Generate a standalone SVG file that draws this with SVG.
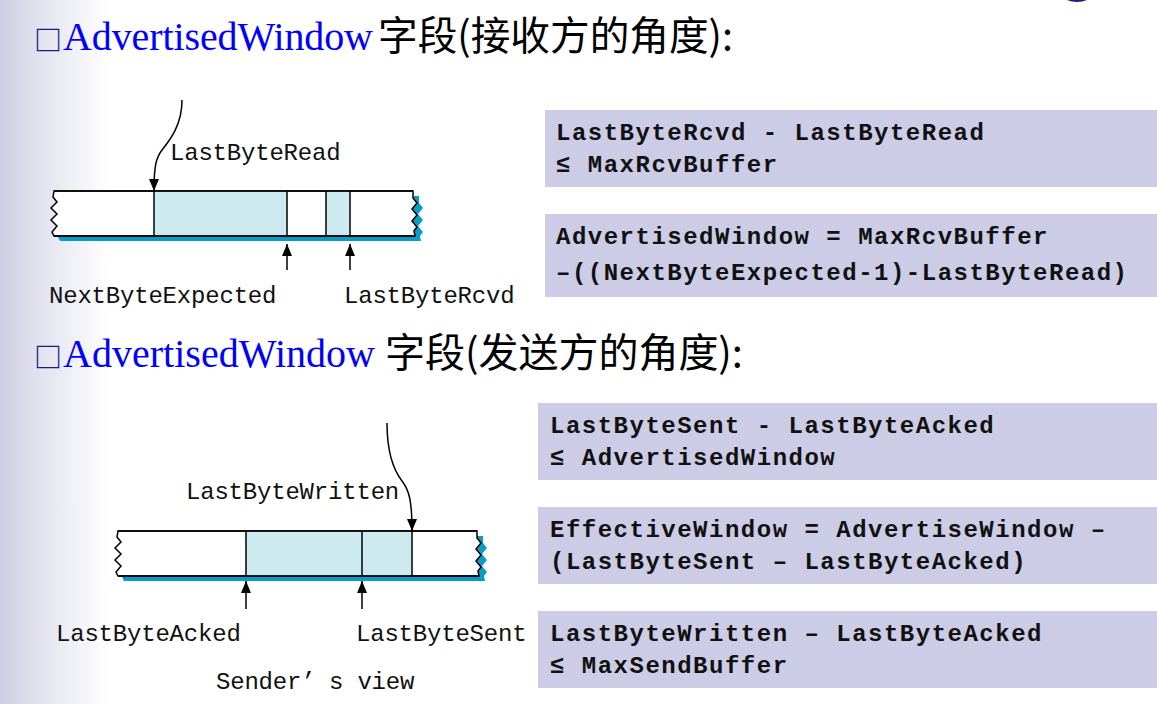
<svg xmlns="http://www.w3.org/2000/svg" width="1157" height="704" viewBox="0 0 1157 704">
<defs>
<linearGradient id="side" x1="0" y1="0" x2="1" y2="0">
<stop offset="0" stop-color="#cdcde3"/>
<stop offset="0.35" stop-color="#e2e2ef"/>
<stop offset="1" stop-color="#ffffff"/>
</linearGradient>
<marker id="ah" markerUnits="userSpaceOnUse" markerWidth="14" markerHeight="12" refX="12" refY="5" orient="auto">
<path d="M0,0 L12,5 L0,10 z" fill="#000"/>
</marker>
<path id="bufShape" d="M0,0 H359 L359,7 L363,12 L358,18 L363,24 L358,30 L363,36 L360,40 L361,45 H0 L-2,41 L3,35 L-3,29 L3,23 L-3,17 L3,11 L-1,6 Z"/>
</defs>
<style>
.box{fill:#cccce6}
.eq{font-family:"Liberation Mono","Courier New",monospace;font-weight:bold;font-size:24px;letter-spacing:1.5px;fill:#111}
.lbl{font-family:"Liberation Mono","Courier New",monospace;font-size:24px;letter-spacing:-0.2px;fill:#111}
.tw{font-family:"Liberation Serif","Times New Roman",serif;font-size:40px;fill:#0000ff}
.tc{font-family:"Noto Sans CJK SC",sans-serif;font-size:40px;fill:#000}
.bul{font-family:"Noto Sans CJK SC","DejaVu Sans",sans-serif;font-size:28px;font-weight:bold;fill:#1a1a80}
.shadow{fill:#0a9cc4}
.buf{fill:#fff;stroke:#000;stroke-width:1.5}
.hl{fill:#cdeaf1}
.div{stroke:#000;stroke-width:1.5}
.conn{fill:none;stroke:#000;stroke-width:1.5}
</style>
<rect x="0" y="0" width="1157" height="704" fill="#fff"/>
<rect x="0" y="0" width="110" height="704" fill="url(#side)"/>
<ellipse cx="1077" cy="-10" rx="18" ry="12" fill="#1c1c7a"/>

<g id="title1">
<text class="bul" x="34" y="51">□</text>
<text class="tw" x="63" y="50" textLength="310" lengthAdjust="spacing">AdvertisedWindow</text>
<text class="tc" x="378" y="50" textLength="355" lengthAdjust="spacingAndGlyphs">字段(接收方的角度):</text>
</g>

<g id="title2">
<text class="bul" x="34" y="368">□</text>
<text class="tw" x="63" y="367" textLength="312" lengthAdjust="spacing">AdvertisedWindow</text>
<text class="tc" x="385" y="367" textLength="358" lengthAdjust="spacingAndGlyphs">字段(发送方的角度):</text>
</g>

<g id="receiver-buffer">
<use href="#bufShape" class="shadow" transform="translate(60,196)"/>
<use href="#bufShape" class="buf" transform="translate(54,191)"/>
<rect class="hl" x="154" y="191.75" width="133" height="43.5"/>
<rect class="hl" x="326" y="191.75" width="24" height="43.5"/>
<line class="div" x1="154" y1="191" x2="154" y2="236"/>
<line class="div" x1="287" y1="191" x2="287" y2="236"/>
<line class="div" x1="326" y1="191" x2="326" y2="236"/>
<line class="div" x1="350" y1="191" x2="350" y2="236"/>
<path d="M54,191 H413 M54,236 H413" fill="none" stroke="#000" stroke-width="1.5"/>
</g>

<g id="sender-buffer">
<use href="#bufShape" class="shadow" transform="translate(124,536)"/>
<use href="#bufShape" class="buf" transform="translate(118,531)"/>
<rect class="hl" x="246" y="531.75" width="166" height="43.5"/>
<line class="div" x1="246" y1="531" x2="246" y2="576"/>
<line class="div" x1="362" y1="531" x2="362" y2="576"/>
<line class="div" x1="412" y1="531" x2="412" y2="576"/>
<path d="M118,531 H477 M118,576 H477" fill="none" stroke="#000" stroke-width="1.5"/>
</g>

<g id="receiver-labels">
<text class="lbl" x="170" y="160">LastByteRead</text>
<text class="lbl" x="49" y="303">NextByteExpected</text>
<text class="lbl" x="344" y="303">LastByteRcvd</text>
</g>

<g id="sender-labels">
<text class="lbl" x="186" y="499">LastByteWritten</text>
<text class="lbl" x="56" y="641">LastByteAcked</text>
<text class="lbl" x="356" y="641">LastByteSent</text>
<text class="lbl" x="216" y="689">Sender’<tspan x="329">s view</tspan></text>
</g>

<g id="connectors">
<path class="conn" marker-end="url(#ah)" d="M182,100 C182,125 170,140 162,150 C156,158 154,166 154,191"/>
<path class="conn" marker-end="url(#ah)" d="M287,270 V244"/>
<path class="conn" marker-end="url(#ah)" d="M350,270 V244"/>
<path class="conn" marker-end="url(#ah)" d="M387,423 C387,450 392,468 402,481 C409,490 412,500 412,531"/>
<path class="conn" marker-end="url(#ah)" d="M246,609 V581"/>
<path class="conn" marker-end="url(#ah)" d="M362,609 V581"/>
</g>

<g id="eq-rcv-buffer">
<rect class="box" x="545" y="110" width="612" height="77"/>
<text class="eq" x="556" y="140">LastByteRcvd - LastByteRead</text>
<text class="eq" x="556" y="172">≤ MaxRcvBuffer</text>
</g>
<g id="eq-advertised">
<rect class="box" x="545" y="214" width="612" height="83"/>
<text class="eq" x="556" y="244">AdvertisedWindow = MaxRcvBuffer</text>
<text class="eq" x="556" y="280">–((NextByteExpected-1)-LastByteRead)</text>
</g>
<g id="eq-sent">
<rect class="box" x="538" y="403" width="619" height="77"/>
<text class="eq" x="550" y="433">LastByteSent - LastByteAcked</text>
<text class="eq" x="550" y="465">≤ AdvertisedWindow</text>
</g>
<g id="eq-effective">
<rect class="box" x="538" y="507" width="619" height="77"/>
<text class="eq" x="550" y="537">EffectiveWindow = AdvertiseWindow –</text>
<text class="eq" x="550" y="569">(LastByteSent – LastByteAcked)</text>
</g>
<g id="eq-written">
<rect class="box" x="538" y="611" width="619" height="77"/>
<text class="eq" x="550" y="641">LastByteWritten – LastByteAcked</text>
<text class="eq" x="550" y="673">≤ MaxSendBuffer</text>
</g>
</svg>
